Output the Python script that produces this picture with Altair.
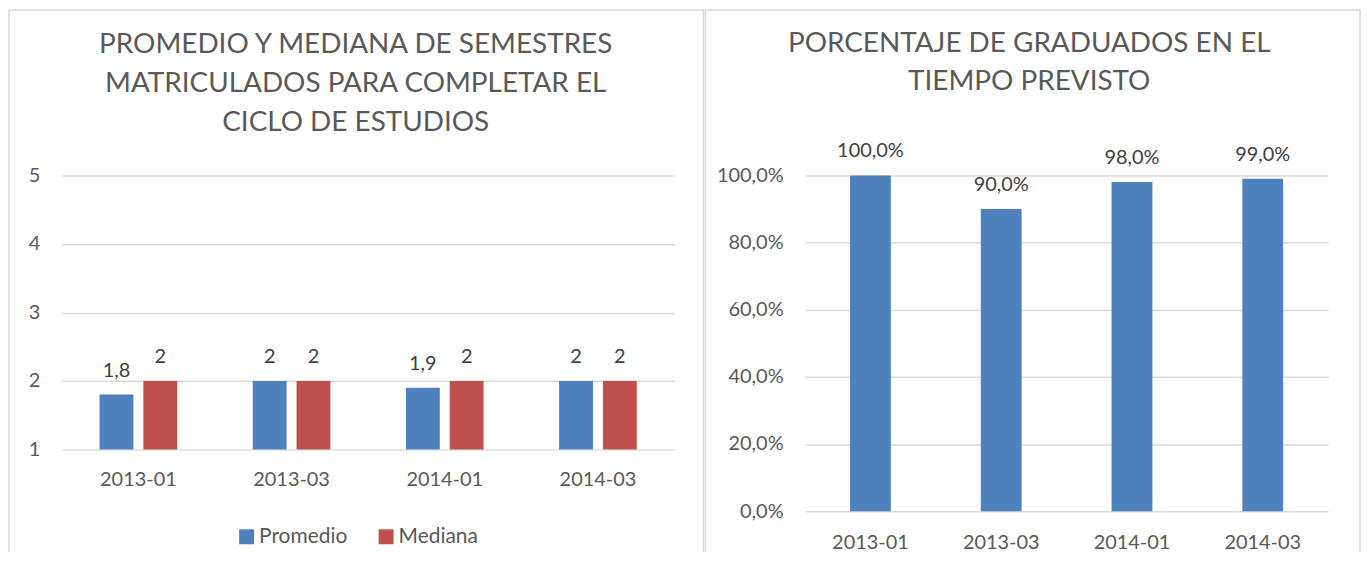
import altair as alt
import pandas as pd

# ---- data ----
periods = ["2013-01", "2013-03", "2014-01", "2014-03"]
series = ["Promedio", "Mediana"]
promedio = [1.8, 2, 1.9, 2]
mediana = [2, 2, 2, 2]
pct = [100.0, 90.0, 98.0, 99.0]
left_ticks = [1, 2, 3, 4, 5]
right_ticks = [0, 20, 40, 60, 80, 100]
left_title = ["PROMEDIO Y MEDIANA DE SEMESTRES", "MATRICULADOS PARA COMPLETAR EL", "CICLO DE ESTUDIOS"]
right_title = ["PORCENTAJE DE GRADUADOS EN EL", "TIEMPO PREVISTO"]


def fmt_num(v):
    return f"{v:g}".replace(".", ",")


rows = []
for i, p in enumerate(periods):
    rows.append({"periodo": p, "serie": "Promedio", "valor": promedio[i], "etiqueta": fmt_num(promedio[i])})
    rows.append({"periodo": p, "serie": "Mediana", "valor": mediana[i], "etiqueta": fmt_num(mediana[i])})
df_left = pd.DataFrame(rows)
df_right = pd.DataFrame({
    "periodo": periods,
    "pct": pct,
    "etiqueta": [f"{v:.1f}%".replace(".", ",") for v in pct],
})
one = pd.DataFrame({"k": [0]})

FONT = "Lato"
GRID = "#D9D9D9"
TXT = "#595959"
LBL = "#404040"
BLUE = "#4F81BD"
RED = "#C0504D"

TOP = -166
BOTTOM = 378


def frame(x0, x1, y0, y1):
    base = alt.Chart(one).mark_rule(color=GRID, strokeWidth=1.5)
    return [
        base.encode(x=alt.value(x0), y=alt.value(y0), y2=alt.value(y1)),
        base.encode(x=alt.value(x1), y=alt.value(y0), y2=alt.value(y1)),
        base.encode(x=alt.value(x0), x2=alt.value(x1), y=alt.value(y0)),
    ]


def title_mark(lines, x, y, lh):
    return alt.Chart(one).mark_text(
        fontSize=28, font=FONT, color=TXT, align="center", baseline="alphabetic", lineHeight=lh
    ).encode(x=alt.value(x), y=alt.value(y), text=alt.value(lines))


# ---- left chart ----
x_left = alt.X(
    "periodo:N", sort=periods,
    scale=alt.Scale(paddingInner=0.493, paddingOuter=0.2465),
    axis=alt.Axis(title=None, labelAngle=0, ticks=False, domain=False, grid=False,
                  labelPadding=20, labelFontSize=20, labelColor=TXT, labelFont=FONT),
)
xoff = alt.XOffset("serie:N", sort=series, scale=alt.Scale(paddingInner=0.227, paddingOuter=0))
y_left = alt.Y(
    "valor:Q",
    scale=alt.Scale(domain=[1, 5], zero=False, nice=False),
    axis=alt.Axis(title=None, values=left_ticks, grid=True, gridColor=GRID, gridWidth=1.5,
                  ticks=False, domain=False, labelPadding=22, labelFontSize=20,
                  labelColor=TXT, labelFont=FONT, format="d"),
)

bars_l = alt.Chart(df_left).mark_bar().encode(
    x=x_left, xOffset=xoff, y=y_left, y2=alt.datum(1),
    color=alt.Color(
        "serie:N", sort=series,
        scale=alt.Scale(domain=series, range=[BLUE, RED]),
        legend=alt.Legend(title=None, orient="none", legendX=175, legendY=352,
                          direction="horizontal", symbolType="square", symbolSize=225,
                          symbolStrokeWidth=0, symbolOpacity=1, labelFontSize=21, labelFont=FONT,
                          labelColor=TXT, labelOffset=2, columnPadding=28, padding=0),
    ),
)
text_l = alt.Chart(df_left).mark_text(
    baseline="alphabetic", dy=-18, fontSize=20, font=FONT, color=LBL
).encode(
    x=alt.X("periodo:N", sort=periods),
    xOffset=alt.XOffset("serie:N", sort=series),
    y=alt.Y("valor:Q"),
    text="etiqueta:N",
)

left = alt.layer(
    *frame(-53, 644, TOP, BOTTOM),
    title_mark(left_title, 295, -123, 39),
    bars_l, text_l,
).properties(width=615, height=275)

# ---- right chart ----
x_right = alt.X(
    "periodo:N", sort=periods,
    scale=alt.Scale(paddingInner=0.688, paddingOuter=0.344),
    axis=alt.Axis(title=None, labelAngle=0, ticks=False, domain=False, grid=False,
                  labelPadding=21, labelFontSize=20, labelColor=TXT, labelFont=FONT),
)
y_right = alt.Y(
    "pct:Q",
    scale=alt.Scale(domain=[0, 100], nice=False),
    axis=alt.Axis(title=None, values=right_ticks, grid=True, gridColor=GRID, gridWidth=1.5,
                  ticks=False, domain=False, labelPadding=22, labelFontSize=20,
                  labelColor=TXT, labelFont=FONT,
                  labelExpr="replace(format(datum.value, '.1f'), '.', ',') + '%'"),
)
bars_r = alt.Chart(df_right).mark_bar(color=BLUE).encode(x=x_right, y=y_right)
text_r = alt.Chart(df_right).mark_text(
    baseline="alphabetic", dy=-18, fontSize=20, font=FONT, color=LBL
).encode(
    x=alt.X("periodo:N", sort=periods),
    y=alt.Y("pct:Q"),
    text="etiqueta:N",
)

right = alt.layer(
    *frame(-100, 557, TOP, BOTTOM),
    title_mark(right_title, 225, -124, 38),
    bars_r, text_r,
).properties(width=525, height=337)

chart = (
    alt.hconcat(left, right, spacing=0)
    .resolve_scale(color="independent")
    .resolve_legend(color="independent")
    .properties(padding=0)
    .configure(font=FONT)
    .configure_view(strokeWidth=0, stroke="transparent")
    .configure_axis(domain=False, ticks=False)
)

chart.save("out.html", embed_options={"renderer": "svg", "actions": False})
